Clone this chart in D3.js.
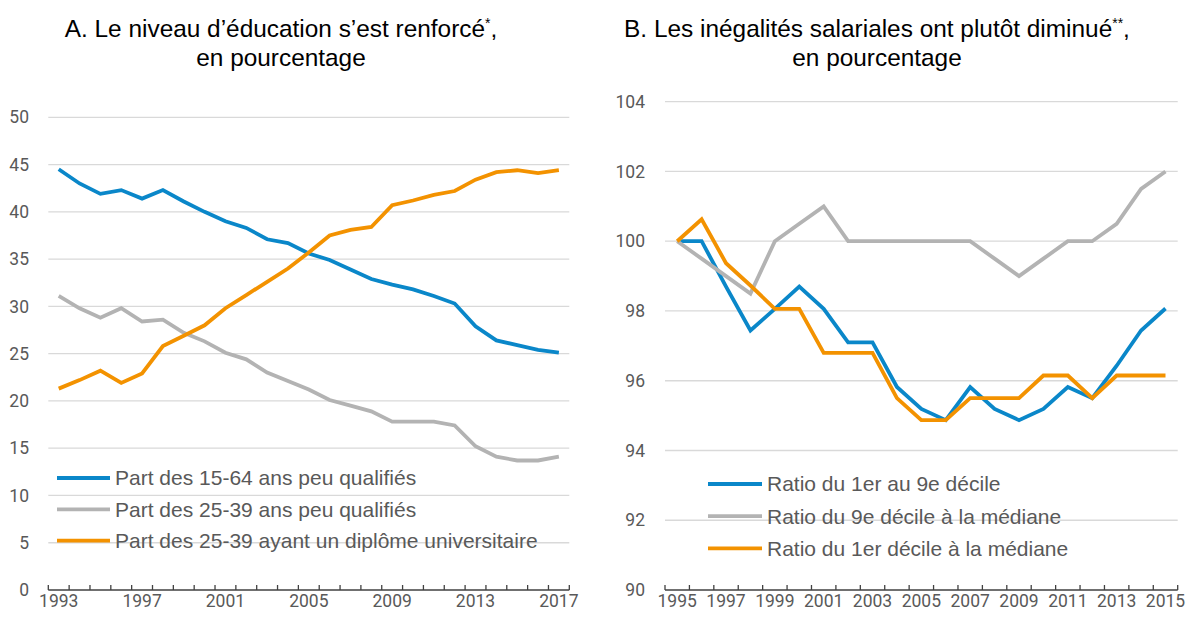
<!DOCTYPE html>
<html>
<head>
<meta charset="utf-8">
<script src="https://cdn.jsdelivr.net/npm/d3@7"></script>
<style>
  body { margin: 0; background: #fff; }
  svg { display: block; }
  .tick-lab { font-family: Roboto, "Liberation Sans", sans-serif; font-size: 17.5px; fill: #595959; }
  .leg { font-family: "Liberation Sans", Arial, sans-serif; font-size: 21px; fill: #595959; }
  .title { font-family: "Liberation Sans", Arial, sans-serif; font-size: 24.4px; fill: #000; }
</style>
</head>
<body>
<svg id="chart" width="1194" height="617"></svg>
<script>
// panel A
const yearsA = d3.range(1993, 2018);
const peuQualif1564 = [44.5, 43.0, 41.9, 42.3, 41.4, 42.3, 41.1, 40.0, 39.0, 38.3, 37.1, 36.7, 35.6, 34.9, 33.9, 32.9, 32.3, 31.8, 31.1, 30.3, 27.9, 26.4, 25.9, 25.4, 25.1];
const peuQualif2539 = [31.1, 29.8, 28.8, 29.8, 28.4, 28.6, 27.2, 26.3, 25.1, 24.4, 23.0, 22.1, 21.2, 20.1, 19.5, 18.9, 17.8, 17.8, 17.8, 17.4, 15.2, 14.1, 13.7, 13.7, 14.1];
const diplomeUniv = [21.3, 22.2, 23.2, 21.9, 22.9, 25.8, 26.9, 28.0, 29.8, 31.2, 32.6, 34.0, 35.7, 37.5, 38.1, 38.4, 40.7, 41.2, 41.8, 42.2, 43.4, 44.2, 44.4, 44.1, 44.4];
const ticksA = [0, 5, 10, 15, 20, 25, 30, 35, 40, 45, 50];
const labelsA = ["Part des 15-64 ans peu qualifiés", "Part des 25-39 ans peu qualifiés", "Part des 25-39 ayant un diplôme universitaire"];

// panel B
const yearsB = d3.range(1995, 2016);
const ratio1a9 = [100, 100, 98.7, 97.44, 98.06, 98.7, 98.06, 97.1, 97.1, 95.82, 95.19, 94.87, 95.82, 95.19, 94.87, 95.19, 95.82, 95.5, 96.43, 97.44, 98.07];
const ratio9med = [100, 99.5, 99.0, 98.5, 100, 100.5, 101, 100, 100, 100, 100, 100, 100, 99.5, 99.0, 99.5, 100, 100, 100.5, 101.5, 102];
const ratio1med = [100, 100.63, 99.37, 98.73, 98.06, 98.06, 96.8, 96.8, 96.8, 95.5, 94.87, 94.87, 95.5, 95.5, 95.5, 96.15, 96.15, 95.5, 96.15, 96.15, 96.15];
const ticksB = [90, 92, 94, 96, 98, 100, 102, 104];
const labelsB = ["Ratio du 1er au 9e décile", "Ratio du 9e décile à la médiane", "Ratio du 1er décile à la médiane"];

const colors = ["#0a87c9", "#b3b3b3", "#f39200"];

const svg = d3.select("#chart");

function panel(cfg) {
  const g = svg.append("g");
  const x = d3.scaleBand().domain(cfg.years).range([cfg.x0, cfg.x1]).padding(0);
  const y = d3.scaleLinear().domain(cfg.yDomain).range([590, cfg.yTop]);

  // gridlines
  g.append("g").selectAll("line")
    .data(cfg.ticks.slice(1))
    .join("line")
    .attr("x1", cfg.x0).attr("x2", cfg.x1)
    .attr("y1", d => y(d)).attr("y2", d => y(d))
    .attr("stroke", "#d9d9d9").attr("stroke-width", 1.3);

  // y labels
  g.append("g").selectAll("text")
    .data(cfg.ticks)
    .join("text")
    .attr("class", "tick-lab")
    .attr("x", cfg.yLabX)
    .attr("y", d => y(d))
    .attr("dy", "0.35em")
    .attr("text-anchor", "end")
    .text(d => d);

  // x axis with ticks at category boundaries
  const edges = cfg.years.map(d => x(d)).concat([cfg.x1]);
  g.append("line")
    .attr("x1", cfg.x0).attr("x2", cfg.x1)
    .attr("y1", y(cfg.yDomain[0])).attr("y2", y(cfg.yDomain[0]))
    .attr("stroke", "#404040").attr("stroke-width", 1.3);
  g.append("g").selectAll("line")
    .data(edges)
    .join("line")
    .attr("x1", d => d).attr("x2", d => d)
    .attr("y1", y(cfg.yDomain[0])).attr("y2", y(cfg.yDomain[0]) - 5)
    .attr("stroke", "#404040").attr("stroke-width", 1.3);
  g.append("g").selectAll("text")
    .data(cfg.years.filter(cfg.showLabel))
    .join("text")
    .attr("class", "tick-lab")
    .attr("x", d => x(d) + x.bandwidth() / 2)
    .attr("y", 607)
    .attr("text-anchor", "middle")
    .text(d => d);

  // lines
  const line = d3.line()
    .x((d, i) => x(cfg.years[i]) + x.bandwidth() / 2)
    .y(d => y(d));
  cfg.series.forEach((s, i) => {
    g.append("path")
      .datum(s)
      .attr("fill", "none")
      .attr("stroke", colors[i])
      .attr("stroke-width", 3.8)
      .attr("stroke-linejoin", "miter")
      .attr("d", line);
  });

  // legend
  const leg = g.append("g").selectAll("g")
    .data(cfg.labels)
    .join("g")
    .attr("transform", (d, i) => `translate(${cfg.legX},${cfg.legY + i * cfg.legStep})`);
  leg.append("line")
    .attr("x1", 0).attr("x2", cfg.legLen)
    .attr("stroke", (d, i) => colors[i])
    .attr("stroke-width", 3.8);
  leg.append("text")
    .attr("class", "leg")
    .attr("x", cfg.legLen + 5)
    .attr("dy", "0.35em")
    .text(d => d);

  // title
  const t = g.append("text").attr("class", "title").attr("text-anchor", "middle");
  t.append("tspan").attr("x", cfg.titleX).attr("y", 37).text(cfg.title);
  t.append("tspan").attr("dy", -9).attr("font-size", 14).text(cfg.stars);
  t.append("tspan").attr("dy", 9).text(",");
  g.append("text").attr("class", "title").attr("text-anchor", "middle")
    .attr("x", cfg.titleX).attr("y", 66).text("en pourcentage");
}

panel({
  years: yearsA, x0: 48.3, x1: 569.3, yDomain: [0, 50], yTop: 117.3,
  ticks: ticksA, yLabX: 29,
  showLabel: d => (d - 1993) % 4 === 0,
  series: [peuQualif1564, peuQualif2539, diplomeUniv], labels: labelsA,
  legX: 57, legY: 478, legStep: 31.3, legLen: 53,
  title: "A. Le niveau d’éducation s’est renforcé", stars: "*", titleX: 281
});

panel({
  years: yearsB, x0: 665, x1: 1177.7, yDomain: [90, 104], yTop: 101.7,
  ticks: ticksB, yLabX: 645,
  showLabel: d => (d - 1995) % 2 === 0,
  series: [ratio1a9, ratio9med, ratio1med], labels: labelsB,
  legX: 708, legY: 484, legStep: 32.2, legLen: 54,
  title: "B. Les inégalités salariales ont plutôt diminué", stars: "**", titleX: 877
});
</script>
</body>
</html>
